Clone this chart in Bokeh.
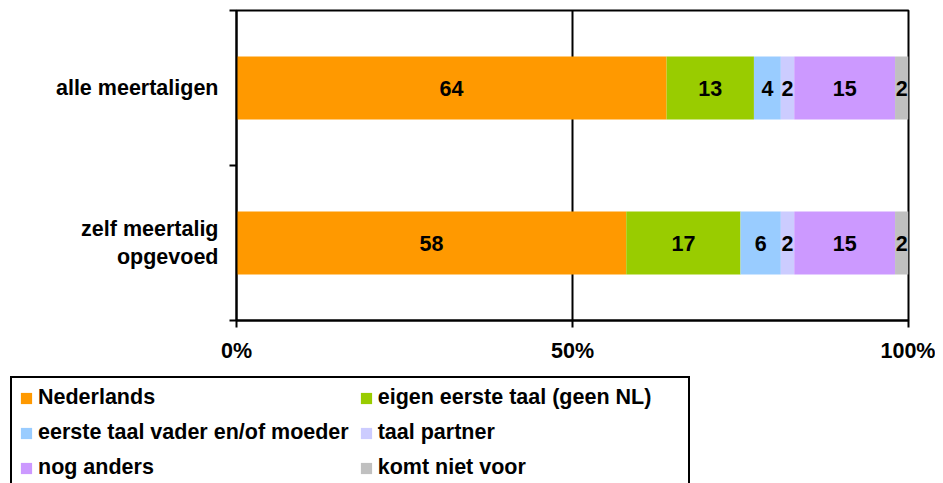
from bokeh.plotting import figure
from bokeh.models import ColumnDataSource, Range1d, FixedTicker, Legend, LegendItem
from bokeh.layouts import column, row
from bokeh.embed import file_html
from bokeh.resources import INLINE
from bokeh.core.properties import value

# ---- data ----
categories = ["alle meertaligen", "zelf meertalig\nopgevoed"]
series = ["Nederlands", "eigen eerste taal (geen NL)", "eerste taal vader en/of moeder",
          "taal partner", "nog anders", "komt niet voor"]
nederlands = [64, 58]
eigen_eerste_taal = [13, 17]
taal_ouders = [4, 6]
taal_partner = [2, 2]
nog_anders = [15, 15]
komt_niet_voor = [2, 2]
colors = ["#FF9900", "#99CC00", "#99CCFF", "#CCCCFF", "#CC99FF", "#C0C0C0"]
x_ticks = [0, 50, 100]
x_tick_labels = ["0%", "50%", "100%"]

FONT = "Liberation Sans"
FS = "21.5px"
values_by_series = [nederlands, eigen_eerste_taal, taal_ouders, taal_partner, nog_anders, komt_niet_voor]
keys = ["s%d" % i for i in range(len(series))]
n = len(categories)
ypos = [n - i - 0.5 for i in range(n)]

data = {"y": ypos}
for k, vals in zip(keys, values_by_series):
    data[k] = vals
src = ColumnDataSource(data)

p = figure(width=935, height=376, x_range=Range1d(0, 100), y_range=Range1d(0, n),
           output_backend="svg", toolbar_location=None,
           min_border_left=236, min_border_right=27, min_border_top=10, min_border_bottom=56)
p.frame_width = 672
p.frame_height = 310

renderers = p.hbar_stack(keys, y="y", height=0.406, color=colors, line_color=None, source=src)

# value labels
lx, ly, lt = [], [], []
for ci in range(n):
    cum = 0
    total = sum(v[ci] for v in values_by_series)
    for vals in values_by_series:
        v = vals[ci]
        lx.append((cum + v / 2) * 100 / total)
        ly.append(ypos[ci])
        lt.append(str(v))
        cum += v
p.text(x=lx, y=ly, text=lt, text_align="center", text_baseline="middle",
       text_font=value(FONT), text_font_style="bold", text_font_size=FS, text_color="black")

# axes
p.xaxis.ticker = FixedTicker(ticks=x_ticks)
p.xaxis.major_label_overrides = {t: l for t, l in zip(x_ticks, x_tick_labels)}
p.xaxis.major_tick_out = 7
p.xaxis.major_tick_in = 0
p.xaxis.minor_tick_line_color = None
p.xaxis.major_tick_line_width = 2
p.xaxis.axis_line_width = 2
p.xaxis.major_label_standoff = 11
p.xaxis.major_label_text_font = FONT
p.xaxis.major_label_text_font_style = "bold"
p.xaxis.major_label_text_font_size = FS
p.xaxis.major_label_text_color = "black"

p.yaxis.ticker = FixedTicker(ticks=ypos, minor_ticks=list(range(n + 1)))
p.yaxis.major_label_overrides = {y: c for y, c in zip(ypos, categories)}
p.yaxis.major_tick_line_color = None
p.yaxis.major_tick_out = 0
p.yaxis.major_tick_in = 0
p.yaxis.minor_tick_out = 7
p.yaxis.minor_tick_in = 0
p.yaxis.minor_tick_line_width = 2
p.yaxis.minor_tick_line_color = "black"
p.yaxis.axis_line_width = 2
p.yaxis.major_label_standoff = 11
p.yaxis.major_label_text_font = FONT
p.yaxis.major_label_text_font_style = "bold"
p.yaxis.major_label_text_font_size = FS
p.yaxis.major_label_text_color = "black"

p.xgrid.ticker = FixedTicker(ticks=[50])
p.xgrid.grid_line_color = "black"
p.xgrid.grid_line_width = 2
p.ygrid.grid_line_color = None

p.outline_line_color = "black"
p.outline_line_width = 2
p.outline_line_alpha = 1.0
p.background_fill_color = "white"
p.border_fill_color = "white"

# legend panel (separate plot beneath; bars kept out of view, only the legend is seen)
p2 = figure(width=935, height=107, x_range=Range1d(0, 100), y_range=Range1d(n + 10, n + 11),
            output_backend="svg", toolbar_location=None,
            x_axis_location=None, y_axis_location=None,
            min_border_left=10, min_border_right=0, min_border_top=0, min_border_bottom=0)
p2.frame_width = 925
p2.frame_height = 107
p2.grid.visible = False
p2.outline_line_color = None
p2.background_fill_color = "white"
p2.border_fill_color = "white"
leg_renderers = p2.hbar_stack(keys, y="y", height=0.406, color=colors, line_color=None, source=src)

legend = Legend(items=[LegendItem(label=s, renderers=[r]) for s, r in zip(series, leg_renderers)],
                location="top_left", orientation="horizontal", nrows=3,
                glyph_width=14, glyph_height=14, label_standoff=5, label_width=303,
                label_height=22, spacing=10, padding=7, margin=0,
                label_text_font=FONT, label_text_font_style="bold", label_text_font_size=FS,
                label_text_color="black", border_line_color="black", border_line_width=2,
                border_line_alpha=1.0,
                background_fill_color="white", background_fill_alpha=1.0)
p2.add_layout(legend, "center")

open("out.html", "w").write(file_html(column(p, row(p2), spacing=0), INLINE))
